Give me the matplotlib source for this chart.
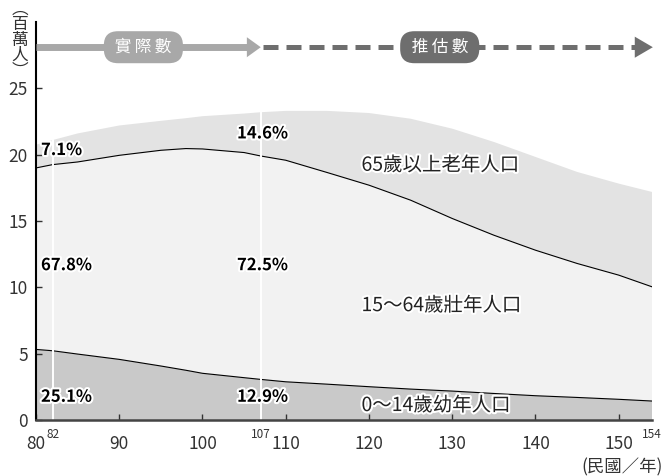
import numpy as np
import matplotlib as mpl
mpl.use('Agg')
import matplotlib.pyplot as plt
import matplotlib.patheffects as pe

plt.rcParams['font.family'] = ['Noto Sans CJK TC', 'DejaVu Sans']

# Years (ROC calendar) and population by age group (millions)
years = [80, 82, 85, 90, 95, 98, 100, 105, 107, 110, 115, 120, 125, 130, 135, 140, 145, 150, 154]
young = [5.32, 5.22, 4.97, 4.57, 4.07, 3.75, 3.52, 3.19, 3.06, 2.88, 2.70, 2.51, 2.33, 2.18, 2.00, 1.83, 1.70, 1.56, 1.43]
working = [13.68, 14.03, 14.48, 15.38, 16.26, 16.71, 16.91, 16.97, 16.84, 16.70, 15.95, 15.19, 14.24, 13.01, 11.93, 10.97, 10.10, 9.36, 8.61]
elderly = [1.75, 1.85, 2.15, 2.25, 2.22, 2.29, 2.47, 2.94, 3.30, 3.72, 4.65, 5.44, 6.14, 6.77, 7.03, 7.03, 6.90, 6.90, 7.15]

group_names = ['0～14歲幼年人口', '15～64歲壯年人口', '65歲以上老年人口']
share_82 = ['25.1%', '67.8%', '7.1%']
share_107 = ['12.9%', '72.5%', '14.6%']
xticks = [80, 90, 100, 110, 120, 130, 140, 150]
marked_years = [82, 107, 154]
yticks = [0, 5, 10, 15, 20, 25]

fill_colors = ['#c9c9c9', '#f2f2f2', '#e3e3e3']
tick_color = '#333333'
halo = [pe.withStroke(linewidth=3, foreground='white')]

fig = plt.figure(figsize=(6.65, 4.76), dpi=100)
ax = fig.add_axes([36 / 665, 56 / 476, 616 / 665, 398 / 476])

ax.stackplot(years, young, working, elderly, colors=fill_colors, lw=0)
yy = np.array(young)
mid = yy + np.array(working)
total = mid + np.array(elderly)
ax.plot(years, yy, color='black', lw=0.8)
ax.plot(years, mid, color='black', lw=0.8)

# white markers at 82 and 107
for yr in marked_years[:2]:
    top = total[years.index(yr)]
    ax.plot([yr, yr], [0, top], color='white', lw=1.4, zorder=2)

ax.set_xlim(80, 154)
ax.set_ylim(0, 30)
for s in ['top', 'right']:
    ax.spines[s].set_visible(False)
ax.spines['left'].set_linewidth(1.5)
ax.spines['left'].set_color('black')
ax.spines['bottom'].set_linewidth(1.8)
ax.spines['bottom'].set_color('#444444')

ax.set_xticks(xticks)
ax.set_yticks(yticks)
ax.tick_params(axis='both', direction='in', length=4, width=1, colors='#333333',
               labelsize=12.5, labelcolor=tick_color)
ax.tick_params(axis='x', pad=11)
ax.tick_params(axis='y', pad=6)

for yr in marked_years:
    ax.text(yr, -0.6, str(yr), fontsize=8.5, color=tick_color, ha='center', va='top')

# percentage labels
y_pos = [1.75, 11.67, 20.35]
for i in range(3):
    ax.text(80.6, y_pos[i], share_82[i], fontsize=12, fontweight='bold',
            ha='left', va='center', color='black', path_effects=halo)
y_pos107 = [1.75, 11.67, 21.6]
for i in range(3):
    ax.text(107.2, y_pos107[i], share_107[i], fontsize=12, fontweight='bold',
            ha='center', va='center', color='black', path_effects=halo)

# group labels
for name, yv in zip(group_names, [1.09, 8.62, 19.2]):
    ax.text(119.1, yv, name, fontsize=14, ha='left', va='center', color='#222222',
            path_effects=halo)

# actual / projected arrows
ay = 28.1
light = '#a8a8a8'
dark = '#6e6e6e'
ax.plot([80, 105.6], [ay, ay], color=light, lw=5, solid_capstyle='butt', clip_on=False, zorder=3)
ax.annotate('', xy=(107, ay), xytext=(105.4, ay), annotation_clip=False,
            arrowprops=dict(arrowstyle='-|>,head_length=0.5,head_width=0.36', mutation_scale=20,
                            lw=0, color=light, shrinkA=0, shrinkB=0))
ax.plot([107.3, 152.0], [ay, ay], color=dark, lw=3.6, linestyle=(0, (3.0, 1.6)),
        dash_capstyle='butt', clip_on=False, zorder=3)
ax.annotate('', xy=(154.1, ay), xytext=(151.9, ay), annotation_clip=False,
            arrowprops=dict(arrowstyle='-|>,head_length=0.65,head_width=0.38', mutation_scale=20,
                            lw=0, color=dark, shrinkA=0, shrinkB=0))
pill = 'round,pad=0.45,rounding_size=0.85'
ax.text(92.9, ay, ' 實\u2009際\u2009數 ', fontsize=12, color='white', ha='center', va='center',
        zorder=4, bbox=dict(boxstyle=pill, fc=light, ec='none'))
ax.text(128.5, ay, ' 推\u2009估\u2009數 ', fontsize=12, color='white', ha='center', va='center',
        zorder=4, bbox=dict(boxstyle=pill, fc=dark, ec='none'))

# axis titles
fig.text(20 / 665, 1 - 40 / 476, '︵\n百\n萬\n人\n︶', fontsize=12, color=tick_color,
         ha='center', va='center', linespacing=0.88)
fig.text(663 / 665, 1 - 467 / 476, '(民國／年)', fontsize=12.5, color=tick_color,
         ha='right', va='center')

fig.savefig('out.png', dpi=100, facecolor='white')
